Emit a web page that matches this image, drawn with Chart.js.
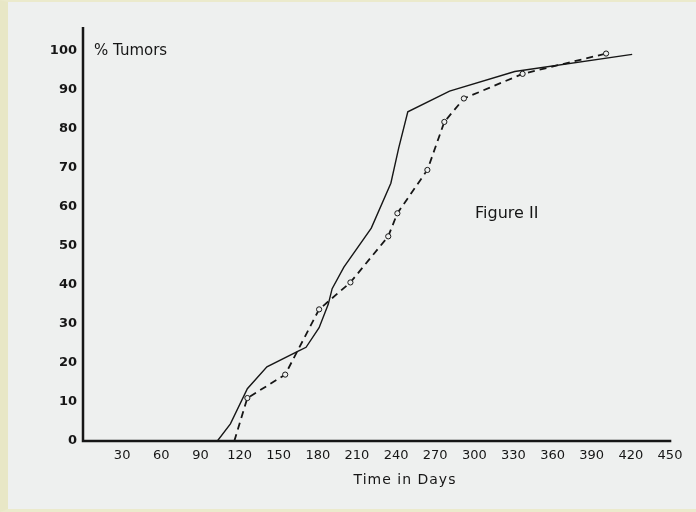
<!DOCTYPE html>
<html>
<head>
<meta charset="utf-8">
<script src="https://cdn.jsdelivr.net/npm/chart.js@4/dist/chart.umd.min.js"></script>
<style>
  html, body { margin: 0; padding: 0; }
  body {
    width: 696px; height: 512px; overflow: hidden;
    background: #eef0ef;
    box-sizing: border-box;
    border-left: 8px solid #e8e7c6;
    border-top: 2px solid #ebeacc;
    border-bottom: 3px solid #ebeacc;
  }
  #wrap { position: absolute; left: 0; top: 0; width: 696px; height: 512px; }
</style>
</head>
<body>
<div id="wrap"><canvas id="grafico" width="696" height="512"></canvas></div>
<script>
// curva continua (sin puntos)
const diasSolida = [103, 113, 126, 141, 165, 171, 181, 188, 191, 200, 221, 236, 242, 249, 281, 331, 421];
const pctSolida  = [0, 4.4, 13.4, 19, 23, 24, 29, 35, 39, 44.5, 54.5, 66, 75, 84.3, 89.6, 94.6, 99];

// curva discontinua con circulos
const diasDiscontinua = [116, 126, 155, 181, 205, 234, 241, 264, 277, 292, 337, 401];
const pctDiscontinua  = [0, 11, 17, 33.7, 40.6, 52.4, 58.3, 69.4, 81.7, 87.7, 94, 99.2];

const ticksX = [30, 60, 90, 120, 150, 180, 210, 240, 270, 300, 330, 360, 390, 420, 450];
const ticksY = [0, 10, 20, 30, 40, 50, 60, 70, 80, 90, 100];

const tinta = "#161616";

const ejes = {
  id: "ejes",
  afterDraw(chart) {
    const { ctx, scales: { x, y } } = chart;
    const x0 = x.getPixelForValue(0), y0 = y.getPixelForValue(0);
    ctx.save();
    ctx.strokeStyle = tinta;
    ctx.lineWidth = 2.5;
    ctx.beginPath();
    ctx.moveTo(x0, y.getPixelForValue(106));
    ctx.lineTo(x0, y0);
    ctx.lineTo(x.getPixelForValue(451), y0);
    ctx.stroke();
    ctx.fillStyle = tinta;
    ctx.textBaseline = "middle";
    ctx.font = "15px 'DejaVu Sans'";
    ctx.fillText("% Tumors", 94, 51);
    ctx.font = "16px 'DejaVu Sans'";
    ctx.fillText("Figure II", 475, 214);
    ctx.font = "14px 'DejaVu Sans'";
    ctx.letterSpacing = "1px";
    ctx.textAlign = "center";
    ctx.fillText("Time in Days", 405, 480);
    ctx.restore();
  }
};

new Chart(document.getElementById("grafico").getContext("2d"), {
  type: "line",
  data: {
    datasets: [
      {
        label: "solida",
        data: diasSolida.map((d, i) => ({ x: d, y: pctSolida[i] })),
        borderColor: tinta,
        borderWidth: 1.4,
        pointRadius: 0,
        tension: 0
      },
      {
        label: "discontinua",
        data: diasDiscontinua.map((d, i) => ({ x: d, y: pctDiscontinua[i] })),
        borderColor: tinta,
        borderWidth: 1.8,
        borderDash: [7, 5],
        pointRadius: diasDiscontinua.map((d, i) => i === 0 ? 0 : 2.6),
        pointBorderWidth: 1,
        pointBorderColor: tinta,
        pointBackgroundColor: "#eef0ef",
        tension: 0
      }
    ]
  },
  options: {
    responsive: false,
    animation: false,
    layout: { padding: { top: 27, right: 26, left: 0, bottom: 0 } },
    plugins: { legend: { display: false }, tooltip: { enabled: false } },
    scales: {
      x: {
        type: "linear",
        min: 0,
        max: 450,
        afterBuildTicks: s => { s.ticks = ticksX.map(v => ({ value: v })); },
        afterFit: s => { s.height = 71; },
        grid: { display: false, drawTicks: false },
        border: { display: false },
        ticks: { color: tinta, padding: 7, maxRotation: 0, autoSkip: false,
                 font: { family: "'DejaVu Sans'", size: 13 } }
      },
      y: {
        min: 0,
        max: 106,
        afterBuildTicks: s => { s.ticks = ticksY.map(v => ({ value: v })); },
        afterFit: s => { s.width = 83; },
        grid: { display: false, drawTicks: false },
        border: { display: false },
        ticks: { color: tinta, padding: 6, autoSkip: false,
                 font: { family: "'DejaVu Sans'", size: 13, weight: "bold" } }
      }
    }
  },
  plugins: [ejes]
});
</script>
</body>
</html>
